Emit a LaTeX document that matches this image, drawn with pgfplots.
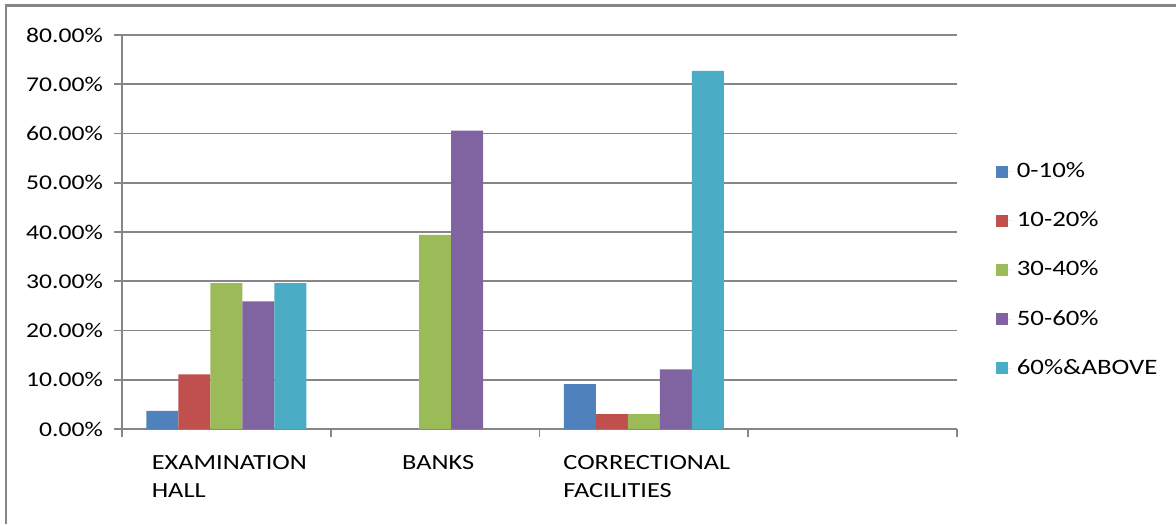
\documentclass[border=0pt]{standalone}
\usepackage{fontspec}
\setmainfont{Carlito}[FakeStretch=1.22]
\usepackage{pgfplots}
\pgfplotsset{compat=1.18}
\definecolor{s1}{RGB}{79,129,189}
\definecolor{s2}{RGB}{192,80,77}
\definecolor{s3}{RGB}{155,187,89}
\definecolor{s4}{RGB}{128,100,162}
\definecolor{s5}{RGB}{75,172,198}
\definecolor{gl}{RGB}{134,134,134}
\begin{document}
\begin{tikzpicture}
\path[use as bounding box] (0,0) rectangle (588pt,262pt);
\draw[gl,line width=1.3pt] (3pt,0) -- (3pt,259.3pt) -- (588pt,259.3pt);
\begin{axis}[
  at={(61pt,47.5pt)}, anchor=origin,
  scale only axis, width=417.5pt, height=197pt,
  xmin=0, xmax=4, ymin=0, ymax=80,
  axis x line=bottom, axis y line=left,
  axis line style={-, draw=gl, line width=0.8pt},
  tick align=outside, major tick length=4pt,
  tick style={draw=gl, line width=0.8pt},
  xtick={0,1,2,3,4}, xticklabels={\mbox{},\mbox{},\mbox{},\mbox{},\mbox{}},
  extra x ticks={0.5,1.5,2.5},
  extra x tick labels={EXAMINATION\\HALL, BANKS, CORRECTIONAL\\FACILITIES},
  extra x tick style={major tick length=0pt, tick label style={align=left, yshift=-9.5pt, xshift=1.5pt,
     font=\fontsize{10.8pt}{14pt}\selectfont}},
  ytick={0,10,...,80},
  yticklabel={\pgfmathprintnumber[fixed,fixed zerofill,precision=2]{\tick}\%},
  /pgf/number format/assume math mode=true,
  yticklabel style={font=\fontsize{10.5pt}{12pt}\selectfont, xshift=-2pt},
  ymajorgrids, grid style={gl, line width=0.8pt},
  ybar=0pt, bar width=16pt,
  legend style={at={(1.046,0.4036)}, anchor=west, draw=none, fill=none,
    font=\fontsize{11pt}{13pt}\selectfont, row sep=11.6pt, inner xsep=0pt,
    legend cell align=left},
  legend image code/.code={\fill[#1,draw=none] (0pt,-3pt) rectangle (6pt,3pt); \path (0pt,0pt) -- (8.5pt,0pt);},
]
\addplot[fill=s1,draw=none] coordinates {(0.5,3.7) (2.5,9.1)};
\addplot[fill=s2,draw=none] coordinates {(0.5,11.1) (2.5,3.0)};
\addplot[fill=s3,draw=none] coordinates {(0.5,29.6) (1.5,39.4) (2.5,3.0)};
\addplot[fill=s4,draw=none] coordinates {(0.5,25.9) (1.5,60.6) (2.5,12.1)};
\addplot[fill=s5,draw=none] coordinates {(0.5,29.6) (2.5,72.7)};
\legend{0-10\%, 10-20\%, 30-40\%, 50-60\%, 60\%\&ABOVE}
\end{axis}
\end{tikzpicture}
\end{document}
